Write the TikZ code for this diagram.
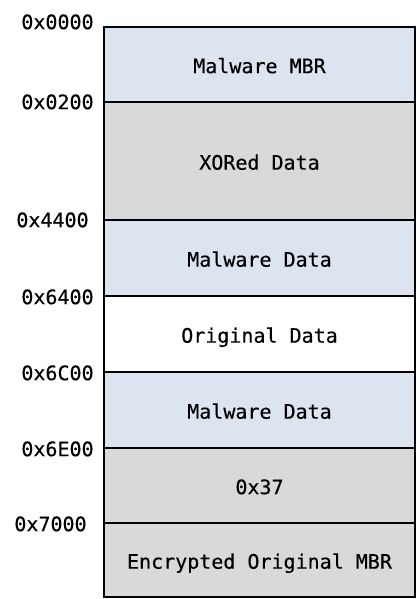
\documentclass[tikz,border=0pt]{standalone}
\usepackage{fontspec}
\setmonofont[FakeBold=0.4]{DejaVu Sans Mono}
\definecolor{lblue}{HTML}{DCE4F0}
\definecolor{lgray}{HTML}{D9D9D9}
\begin{document}
\begin{tikzpicture}[x=1pt,y=-1pt,
  blk/.style={draw=black,line width=2pt,rectangle,inner sep=0pt,minimum width=311pt,
    font=\ttfamily\fontsize{20}{22}\selectfont,text height=14.4pt+3pt,text depth=0pt},
  addr/.style={inner sep=0pt,font=\ttfamily\fontsize{20}{22}\selectfont,text height=14.4pt,text depth=0pt}]
\useasboundingbox (0,0) rectangle (416,599);
\node[blk,fill=lblue,minimum height=75pt] (b1) at (259.5,64.5) {Malware MBR};
\node[blk,fill=lgray,minimum height=118pt] (b2) at (259.5,161) {XORed Data};
\node[blk,fill=lblue,minimum height=76pt] (b3) at (259.5,258) {Malware Data};
\node[blk,fill=white,minimum height=76pt] (b4) at (259.5,334) {Original Data};
\node[blk,fill=lblue,minimum height=76pt] (b5) at (259.5,410) {Malware Data};
\node[blk,fill=lgray,minimum height=75pt] (b6) at (259.5,485.5) {0x37};
\node[blk,fill=lgray,minimum height=74pt] (b7) at (259.5,560) {Encrypted Original MBR};
\node[addr] (a1) at (57.5,22) {0x0000};
\node[addr] (a2) at (57.5,102) {0x0200};
\node[addr] (a3) at (52.5,220) {0x4400};
\node[addr] (a4) at (57.5,297) {0x6400};
\node[addr] (a5) at (57.5,373) {0x6C00};
\node[addr] (a6) at (57.5,449) {0x6E00};
\node[addr] (a7) at (50.5,524) {0x7000};
\end{tikzpicture}
\end{document}
